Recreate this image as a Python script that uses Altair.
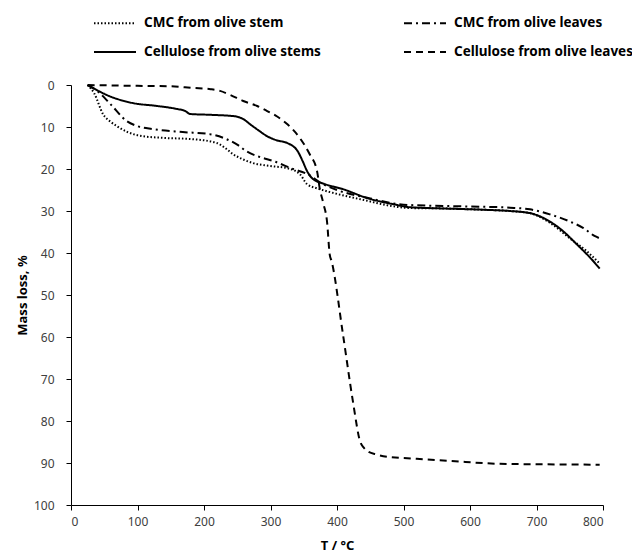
import altair as alt
import pandas as pd

# Cellulose from olive stems (solid)
t_cel_stem = [25,33,54,93,130,159,172,179,210,244,260,269,282,295,310,325,341,348,355,364,380,409,445,485,510,560,620,660,690,720,740,761,780,795]
y_cel_stem = [0,0.7,2.4,4.3,5.0,5.7,6.2,6.9,7.1,7.4,8.2,9.3,10.8,12.2,13.2,13.8,15.8,18.0,20.5,22.4,23.5,24.8,26.9,28.4,29.1,29.4,29.7,30.0,30.5,32.5,34.8,38.0,41.0,43.7]

# CMC from olive stem (dotted)
t_cmc_stem = [25,35,48,60,69,85,108,140,183,219,232,244,260,274,300,325,344,355,370,385,435,510,560,620,660,690,720,750,775,795]
y_cmc_stem = [0,2,6.9,8.8,9.8,11.2,12.2,12.6,12.9,13.8,15.0,16.5,17.8,18.6,19.3,19.8,21.2,23.6,24.6,25.3,27.2,29.3,29.4,29.7,30.0,30.5,32.8,36.5,39.5,42.5]

# CMC from olive leaves (dash-dot)
t_cmc_leaf = [25,40,59,84,100,123,168,209,234,250,264,285,304,334,355,379,400,450,500,560,620,660,690,720,750,770,788,795]
y_cmc_leaf = [0,1.5,4.5,8.6,9.8,10.5,11.2,11.7,12.9,14.2,15.8,17.2,18.1,20.0,21.2,23.6,25.0,27.0,28.5,28.8,29.0,29.2,29.6,30.8,32.5,34.0,36.0,36.5]

# Cellulose from olive leaves (dashed)
t_cel_leaf = [25,60,100,150,183,210,224,240,259,280,295,310,325,344,359,370,374,380,385,389,392,409,424,435,440,445,460,475,520,570,645,700,795]
y_cel_leaf = [0,0.1,0.2,0.3,0.7,1.0,1.4,2.4,3.8,5.0,6.2,7.5,9.3,12.6,16.5,20.5,24.6,28.5,32.5,40.3,42.0,59.4,75.4,85.0,86.3,87.1,88.0,88.5,89.0,89.5,90.2,90.3,90.4]

# legend order (column-major in a 2-column legend)
series_names = ["CMC from olive stem", "Cellulose from olive stems",
                "CMC from olive leaves", "Cellulose from olive leaves"]
series_data = [(t_cmc_stem, y_cmc_stem), (t_cel_stem, y_cel_stem),
               (t_cmc_leaf, y_cmc_leaf), (t_cel_leaf, y_cel_leaf)]
series_dash = [[1.5, 2], [1, 0], [8, 4, 2, 4], [7, 5]]

rows = []
for name, (ts, ys) in zip(series_names, series_data):
    for i, (t, y) in enumerate(zip(ts, ys)):
        rows.append({"series": name, "T": t, "loss": y, "order": i})
df = pd.DataFrame(rows)

FONT = "Noto Sans"

chart = alt.Chart(df).mark_line(color="black", interpolate="monotone", strokeWidth=2).encode(
    x=alt.X("T:Q", scale=alt.Scale(domain=[0, 800], nice=False),
            axis=alt.Axis(values=list(range(0, 801, 100)), title="T / °C",
                          grid=False, tickSize=5, labelPadding=6,
                          titlePadding=12)),
    y=alt.Y("loss:Q", scale=alt.Scale(domain=[0, 100], reverse=True, nice=False),
            axis=alt.Axis(values=list(range(0, 101, 10)), title="Mass loss, %",
                          grid=False, tickSize=5, labelPadding=12,
                          titlePadding=4)),
    order="order:Q",
    strokeDash=alt.StrokeDash("series:N", sort=series_names,
        scale=alt.Scale(domain=series_names, range=series_dash),
        legend=alt.Legend(title=None, orient="none", legendX=22, legendY=-84,
                          columns=2, symbolType="stroke", symbolSize=1764,
                          symbolStrokeColor="black", symbolStrokeWidth=2,
                          columnPadding=79, rowPadding=-2, labelOffset=7,
                          labelFontSize=13.5, labelFontWeight="bold",
                          labelColor="black", labelFont=FONT, labelLimit=300)),
).properties(
    width=532, height=420,
    autosize=alt.AutoSizeParams(type="none"),
    padding={"left": 63, "top": 77, "right": 29, "bottom": 48},
).configure_axis(
    domainColor="black", tickColor="black", labelColor="#404040",
    labelFont=FONT, labelFontSize=12, titleFont=FONT, titleFontSize=13,
    titleFontWeight="bold", titleColor="black",
).configure_view(stroke=None)

chart.save("out.html", embed_options={"renderer": "svg", "actions": False})
